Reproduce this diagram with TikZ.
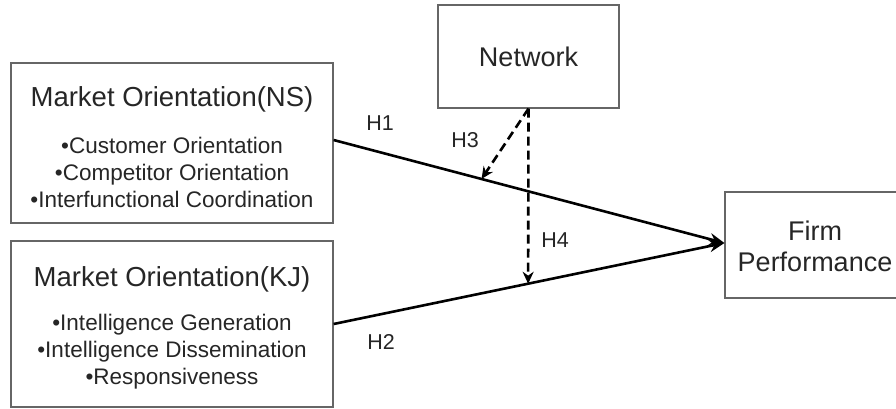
\documentclass[tikz,border=0pt]{standalone}
\usepackage{fontspec}
\setmainfont{Liberation Sans}
\usetikzlibrary{arrows.meta,calc}
\begin{document}
\begin{tikzpicture}[x=1pt,y=-1pt,
  box/.style={draw=black!60, line width=1.2pt, rectangle, inner sep=0pt, align=center, text=black!85},
  title/.style={font=\fontsize{27.5}{31}\selectfont, text=black!85},
  bigt/.style={font=\fontsize{27}{31}\selectfont, text=black!85},
  item/.style={font=\fontsize{22.5}{27}\selectfont, text=black!85, align=center},
  hlabel/.style={font=\fontsize{21.5}{22}\selectfont, text=black!85},
  path/.style={line width=2.6pt, -{Stealth[length=15pt,width=12pt]}},
  moder/.style={line width=2.6pt, dash pattern=on 9pt off 5pt, -{Stealth[length=12pt,width=11pt]}}
]
\useasboundingbox (0,0) rectangle (896,408);
\clip (0,0) rectangle (896,408);
\fill[white] (0,0) rectangle (896,408);

\node[box, minimum width=322pt, minimum height=160pt] (ns) at (172,143) {};
\node[title] (nst) at (172,99) {Market Orientation(NS)};
\node[item] (nsi) at (172,172) {•Customer Orientation\\•Competitor Orientation\\•Interfunctional Coordination};

\node[box, minimum width=322pt, minimum height=166pt] (kj) at (172,324) {};
\node[title] (kjt) at (172,279) {Market Orientation(KJ)};
\node[item] (kji) at (172,352) {•Intelligence Generation\\•Intelligence Dissemination\\•Responsiveness};

\node[box, minimum width=181pt, minimum height=103pt, bigt] (net) at (528.5,56.5) {Network};

\node[box, minimum width=180pt, minimum height=106pt] (firm) at (815,245) {};
\node[bigt, align=center] (firmt) at (815,246) {Firm\\Performance};

\coordinate (h1s) at ($(ns.east)+(0,-3)$);
\coordinate (h3t) at ($(h1s)!0.378!(725,243)$);
\coordinate (h4t) at ($(kj.east)!0.497!(725,243)$);
\coordinate (ft) at ($(firm.west)+(0,-2)$);

\draw[path] (h1s) -- (ft);
\draw[path] (kj.east) -- (ft);
\draw[moder] (net.south) -- (h3t);
\draw[moder] (net.south) -- (h4t);

\node[hlabel] (lh1) at (380,123) {H1};
\node[hlabel] (lh3) at (465,140) {H3};
\node[hlabel] (lh4) at (555,240) {H4};
\node[hlabel] (lh2) at (381,342) {H2};
\end{tikzpicture}
\end{document}
